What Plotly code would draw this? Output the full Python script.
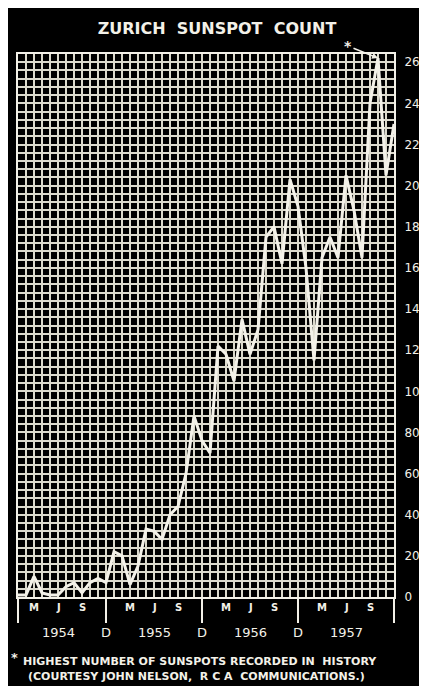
import plotly.graph_objects as go

# ---------------- data ----------------
year_labels = ["1954", "1955", "1956", "1957"]
month_index = list(range(48))          # Jan 1954 ... Dec 1957
sunspots_1954 = [1, 1, 10, 2, 1, 1, 5, 7, 2, 7, 9, 7]
sunspots_1955 = [22, 20, 6, 15, 33, 32, 28, 40, 44, 60, 88, 76]
sunspots_1956 = [70, 122, 118, 105, 135, 118, 130, 175, 180, 162, 203, 190]
sunspots_1957 = [160, 115, 165, 175, 165, 205, 188, 165, 240, 262, 205, 230]
counts = sunspots_1954 + sunspots_1955 + sunspots_1956 + sunspots_1957

quarter_labels = ["M", "J", "S"]       # March, June, September
quarter_months = [2, 5, 8]             # month offset inside a year
december_month = 11
year_center_month = 5
boundary_ticks = [0, 11, 23, 35, 47]
y_tick_values = list(range(0, 261, 20))
peak_month = 45
peak_value = 262

# ---------------- styling ----------------
W, H = 427, 686
GRID = "#dcdacd"
INK = "#f3f1e8"

fig = go.Figure()
fig.add_trace(go.Scatter(
    x=month_index, y=counts, mode="lines",
    line=dict(color=INK, width=3), hoverinfo="skip", cliponaxis=False))

annotations = []
# quarter month letters
for yi in range(len(year_labels)):
    for lab, m in zip(quarter_labels, quarter_months):
        annotations.append(dict(
            x=12 * yi + m, y=0, xref="x", yref="paper", text="<b>%s</b>" % lab,
            showarrow=False, yanchor="middle", yshift=-10,
            font=dict(family="DejaVu Sans", size=10, color=INK)))
# year labels
for yi, yl in enumerate(year_labels):
    annotations.append(dict(
        x=12 * yi + year_center_month, y=0, xref="x", yref="paper", text=yl,
        showarrow=False, yanchor="middle", yshift=-35,
        font=dict(family="DejaVu Sans", size=13, color=INK)))
# December labels at year boundaries
for yi in range(len(year_labels) - 1):
    annotations.append(dict(
        x=12 * yi + december_month, y=0, xref="x", yref="paper", text="D",
        showarrow=False, yanchor="middle", yshift=-35,
        font=dict(family="DejaVu Sans", size=13, color=INK)))
# asterisk pointing to the record peak
annotations.append(dict(
    x=peak_month, y=peak_value, xref="x", yref="y", text="<b>*</b>",
    showarrow=True, arrowhead=2, arrowsize=0.8, arrowwidth=1.5, arrowcolor=INK,
    ax=-30, ay=-12, font=dict(family="DejaVu Sans", size=14, color=INK)))
# footnote
annotations.append(dict(
    x=0, y=0, xref="paper", yref="paper", xanchor="left", yanchor="middle",
    xshift=-9, yshift=-60, text="<b>*</b>", showarrow=False,
    font=dict(family="DejaVu Sans", size=13, color=INK)))
annotations.append(dict(
    x=0, y=0, xref="paper", yref="paper", xanchor="left", yanchor="middle",
    xshift=3, yshift=-64, showarrow=False,
    text="<b>HIGHEST NUMBER OF SUNSPOTS RECORDED IN  HISTORY</b>",
    font=dict(family="DejaVu Sans", size=11, color=INK)))
annotations.append(dict(
    x=0, y=0, xref="paper", yref="paper", xanchor="left", yanchor="middle",
    xshift=8, yshift=-79, showarrow=False,
    text="<b>(COURTESY JOHN NELSON,  R C A  COMMUNICATIONS.)</b>",
    font=dict(family="DejaVu Sans", size=11, color=INK)))

fig.update_layout(
    width=W, height=H,
    margin=dict(l=8, r=38, t=46, b=97),
    paper_bgcolor="black", plot_bgcolor="black",
    showlegend=False,
    title=dict(text="<b>ZURICH  SUNSPOT  COUNT</b>", x=209 / W, xanchor="center",
               y=1 - 20 / H, yanchor="middle", yref="container",
               font=dict(family="DejaVu Sans", size=16, color=INK)),
    annotations=annotations,
)

fig.update_xaxes(
    range=[0, 47], tickmode="array", tickvals=boundary_ticks,
    showticklabels=False, ticks="outside", ticklen=24, tickwidth=2,
    tickcolor=INK, showgrid=True, gridcolor=GRID, gridwidth=1.5,
    minor=dict(tickmode="linear", tick0=0, dtick=1, showgrid=True,
               gridcolor=GRID, gridwidth=1.5, ticks=""),
    showline=True, mirror=True, linecolor=INK, linewidth=2, zeroline=False)

fig.update_yaxes(
    range=[0, 264], side="right", tickmode="array", tickvals=y_tick_values,
    ticks="", ticklabelstandoff=6,
    tickfont=dict(family="DejaVu Sans", size=12, color=INK),
    showgrid=True, gridcolor=GRID, gridwidth=1.5,
    minor=dict(tickmode="linear", tick0=0, dtick=4, showgrid=True,
               gridcolor=GRID, gridwidth=1.5, ticks=""),
    showline=True, mirror=True, linecolor=INK, linewidth=2, zeroline=False)

fig.write_html("out.html")
